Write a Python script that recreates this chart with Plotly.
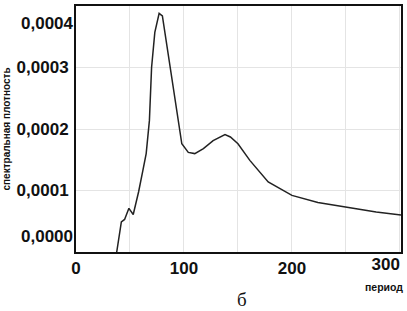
import plotly.graph_objects as go

period = [37.7, 42, 45, 49, 53, 58, 62, 65, 68, 70, 73, 77, 80, 87, 92, 96, 98,
          104, 110, 118, 127, 138, 143, 150, 161, 178, 189, 200, 224, 251, 278, 301]
density = [0.0, 0.49e-4, 0.53e-4, 0.71e-4, 0.61e-4, 0.98e-4, 1.33e-4, 1.60e-4,
           2.14e-4, 3.00e-4, 3.57e-4, 3.88e-4, 3.84e-4, 3.00e-4, 2.46e-4, 1.98e-4,
           1.76e-4, 1.62e-4, 1.60e-4, 1.68e-4, 1.81e-4, 1.91e-4, 1.87e-4, 1.76e-4,
           1.49e-4, 1.14e-4, 1.03e-4, 0.92e-4, 0.805e-4, 0.73e-4, 0.65e-4, 0.60e-4]

x_tickvals = [0, 50, 100, 150, 200, 250, 300]
x_ticktext = ["0", "", "100", "", "200", "", ""]
x_last_val = [300]
x_last_text = ["300"]
y_tickvals = [0, 0.0001, 0.0002, 0.0003, 0.0004]
y_ticktext = ["", "0,0001", "0,0002", "0,0003", ""]
y_top_val = [0.0004]
y_top_text = ["0,0004"]
y_bot_val = [0]
y_bot_text = ["0,0000"]

X_RANGE = [0, 301]
Y_RANGE = [0, 0.0004]

fig = go.Figure()
fig.add_trace(go.Scatter(x=period, y=density, mode="lines",
                         line=dict(color="#222222", width=1.5), showlegend=False))
# empty carrier traces so the overlay label axes are drawn
fig.add_trace(go.Scatter(x=[], y=[], xaxis="x2", yaxis="y2", mode="lines",
                         showlegend=False, hoverinfo="skip"))
fig.add_trace(go.Scatter(x=[], y=[], xaxis="x", yaxis="y3", mode="lines",
                         showlegend=False, hoverinfo="skip"))

tickfont = dict(family="Liberation Sans, Arial", size=17, color="#111111", weight="bold")
overlay_common = dict(showgrid=False, zeroline=False, showline=False, ticks="",
                      automargin=False, tickmode="array", tickfont=tickfont,
                      ticklabeloverflow="allow")
fig.update_layout(
    width=407, height=311,
    margin=dict(l=76, r=6, t=6, b=59, autoexpand=False),
    paper_bgcolor="white", plot_bgcolor="white",
    xaxis=dict(range=X_RANGE, tickmode="array", tickvals=x_tickvals, ticktext=x_ticktext,
               showgrid=True, gridcolor="#e4e4e4", gridwidth=1, zeroline=False,
               showline=True, linecolor="#111111", linewidth=2, mirror=True,
               ticks="", automargin=False, ticklabeloverflow="allow", tickfont=tickfont),
    xaxis2=dict(overlaying="x", anchor="y", side="bottom", range=X_RANGE,
                tickvals=x_last_val, ticktext=x_last_text,
                ticklabelposition="outside left", **overlay_common),
    yaxis=dict(range=Y_RANGE, tickmode="array", tickvals=y_tickvals, ticktext=y_ticktext,
               showgrid=True, gridcolor="#e4e4e4", gridwidth=1, zeroline=False,
               showline=True, linecolor="#111111", linewidth=2, mirror=True,
               ticks="", ticklabelstandoff=2, automargin=False, ticklabeloverflow="allow",
               tickfont=tickfont,
               title=dict(text="спектральная плотность", standoff=4,
                          font=dict(family="Liberation Sans, Arial", size=10,
                                    color="#111111", weight="bold"))),
    yaxis2=dict(overlaying="y", anchor="x", side="left", range=Y_RANGE,
                tickvals=y_top_val, ticktext=y_top_text, ticklabelstandoff=2,
                ticklabelshift=5,
                ticklabelposition="outside bottom", **overlay_common),
    yaxis3=dict(overlaying="y", anchor="x", side="left", range=Y_RANGE,
                tickvals=y_bot_val, ticktext=y_bot_text, ticklabelstandoff=2,
                ticklabelshift=-4,
                ticklabelposition="outside top", **overlay_common),
)
fig.add_annotation(text="период", xref="paper", yref="paper", x=1, y=0, xanchor="right",
                   yanchor="middle", xshift=4, yshift=-35, showarrow=False,
                   font=dict(family="Liberation Sans, Arial", size=10.5, color="#111111", weight="bold"))
fig.add_annotation(text="б", xref="paper", yref="paper", x=0.51, y=0, xanchor="center",
                   yanchor="middle", yshift=-47, showarrow=False,
                   font=dict(family="Liberation Serif, Times New Roman", size=19, color="#111111"))
fig.write_html("out.html", config={"displayModeBar": False},
               post_script="document.body.style.margin='0';")
